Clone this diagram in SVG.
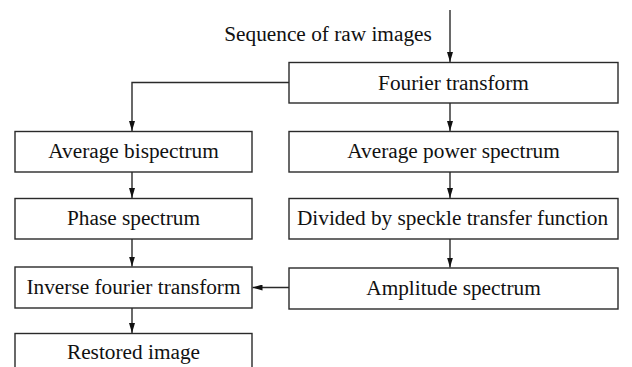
<svg xmlns="http://www.w3.org/2000/svg" width="632" height="367" viewBox="0 0 632 367">
<style>
.box{fill:#fff;stroke:#2a2a2a;stroke-width:1.4}
.t{font-family:"Liberation Serif","Times New Roman",serif;font-size:21.3px;fill:#111;text-anchor:middle}
.c{fill:none;stroke:#2a2a2a;stroke-width:1.4}
</style>
<defs>
<marker id="ah" viewBox="0 0 10 6" refX="10" refY="3" markerWidth="10" markerHeight="6" markerUnits="userSpaceOnUse" orient="auto">
<path d="M0,0 L10,3 L0,6 Z" fill="#111"/>
</marker>
</defs>
<rect width="632" height="367" fill="#fff"/>
<text class="t" x="328" y="41">Sequence of raw images</text>
<g id="fourier"><rect class="box" x="289" y="62.5" width="329" height="40.5"/><text class="t" x="453.5" y="89.5">Fourier transform</text></g>
<g id="avg-bispectrum"><rect class="box" x="15" y="131.5" width="237" height="40.5"/><text class="t" x="133.5" y="158">Average bispectrum</text></g>
<g id="avg-power"><rect class="box" x="289" y="131.5" width="329" height="40.5"/><text class="t" x="453.5" y="158">Average power spectrum</text></g>
<g id="phase"><rect class="box" x="15" y="198.5" width="237" height="40.5"/><text class="t" x="133.5" y="224.5">Phase spectrum</text></g>
<g id="divided"><rect class="box" x="289" y="198.5" width="329" height="40.5"/><text class="t" x="452.5" y="224.5">Divided by speckle transfer function</text></g>
<g id="inverse"><rect class="box" x="15" y="267" width="237" height="41"/><text class="t" x="133.5" y="294">Inverse fourier transform</text></g>
<g id="amplitude"><rect class="box" x="289" y="268" width="329" height="41"/><text class="t" x="453.5" y="295">Amplitude spectrum</text></g>
<g id="restored"><rect class="box" x="15" y="333.5" width="237" height="40"/><text class="t" x="133.5" y="359">Restored image</text></g>
<g id="connectors">
<path class="c" d="M450,10 V62" marker-end="url(#ah)"/>
<path class="c" d="M289,82.5 H132 V131" marker-end="url(#ah)"/>
<path class="c" d="M450,103 V131" marker-end="url(#ah)"/>
<path class="c" d="M132,172 V198" marker-end="url(#ah)"/>
<path class="c" d="M450,172 V198" marker-end="url(#ah)"/>
<path class="c" d="M132,239 V266.5" marker-end="url(#ah)"/>
<path class="c" d="M450,239 V267.5" marker-end="url(#ah)"/>
<path class="c" d="M289,287.5 H252.5" marker-end="url(#ah)"/>
<path class="c" d="M132,308 V333" marker-end="url(#ah)"/>
</g>
</svg>
